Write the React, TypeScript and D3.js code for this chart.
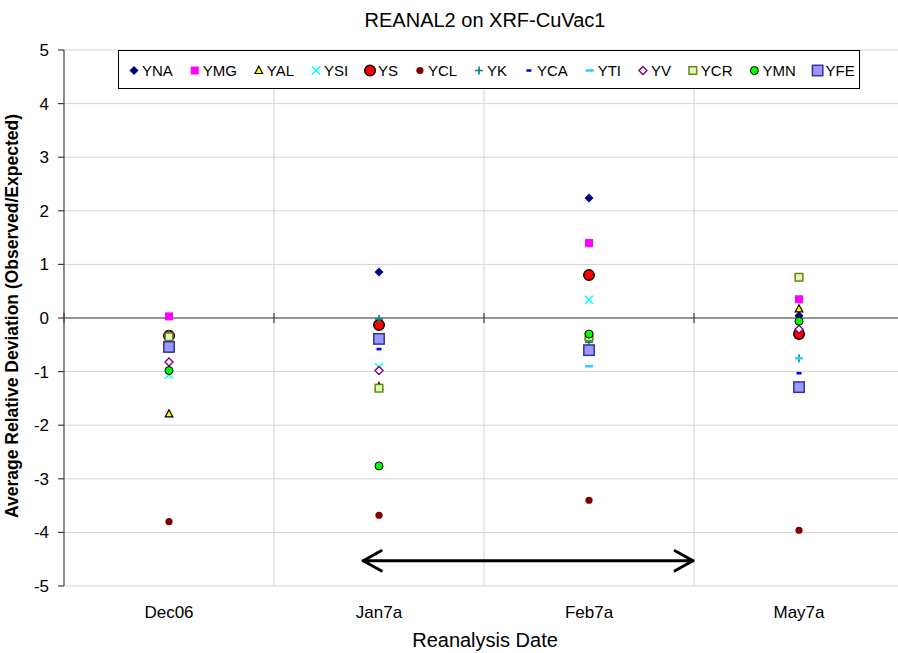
import React from "react";
import * as d3 from "d3";

const categories = ["Dec06", "Jan7a", "Feb7a", "May7a"];
const yTicks = [5, 4, 3, 2, 1, 0, -1, -2, -3, -4, -5];

const YNA = [-0.32, 0.86, 2.24, 0.04];
const YMG = [0.03, -0.38, 1.4, 0.35];
const YAL = [-1.79, -1.28, -0.33, 0.17];
const YSI = [-1.06, -0.92, 0.34, -0.3];
const YS = [-0.33, -0.13, 0.8, -0.3];
const YCL = [-3.8, -3.68, -3.4, -3.96];
const YK = [-0.3, -0.02, -0.45, -0.75];
const YCA = [-0.62, -0.58, -0.62, -1.03];
const YTI = [-0.5, -0.4, -0.9, -0.75];
const YV = [-0.82, -0.98, -0.6, -0.21];
const YCR = [-0.35, -1.31, -0.35, 0.76];
const YMN = [-0.98, -2.76, -0.3, -0.06];
const YFE = [-0.54, -0.39, -0.6, -1.29];

const seriesNames = ["YNA", "YMG", "YAL", "YSI", "YS", "YCL", "YK", "YCA", "YTI", "YV", "YCR", "YMN", "YFE"];
const seriesValues = [YNA, YMG, YAL, YSI, YS, YCL, YK, YCA, YTI, YV, YCR, YMN, YFE];

// annotation arrow (in data terms)
const arrowFrom = { cat: "Jan7a", offset: -0.08, value: -4.53 };
const arrowTo = { cat: "Feb7a", offset: 0.5, value: -4.53 };

const FONT = "'Liberation Sans', Arial, sans-serif";

function Marker({ name, x, y }: { name: string; x: number; y: number }) {
  const t = `translate(${x},${y})`;
  switch (name) {
    case "YNA":
      return <path transform={t} d="M0,-4.5L4.5,0L0,4.5L-4.5,0Z" fill="#000080" />;
    case "YMG":
      return <rect transform={t} x={-4} y={-4} width={8} height={8} fill="#FF00FF" />;
    case "YAL":
      return <path transform={t} d="M0,-4.2L3.8,3L-3.8,3Z" fill="#FFFF00" stroke="#000" strokeWidth={1.2} />;
    case "YSI":
      return (
        <path transform={t} d="M-4,-4L4,4M-4,4L4,-4" stroke="#00FFFF" strokeWidth={1.5} fill="none" />
      );
    case "YS":
      return <circle transform={t} r={5.3} fill="#FF0000" stroke="#000" strokeWidth={1.4} />;
    case "YCL":
      return <circle transform={t} r={3.6} fill="#800000" />;
    case "YK":
      return <path transform={t} d="M-4,0L4,0M0,-4L0,4" stroke="#008080" strokeWidth={1.6} fill="none" />;
    case "YCA":
      return <rect transform={t} x={-2.5} y={-1.3} width={5} height={2.6} fill="#0000FF" />;
    case "YTI":
      return <rect transform={t} x={-4} y={-1.3} width={8} height={2.6} fill="#33CCFF" />;
    case "YV":
      return <path transform={t} d="M0,-4L4,0L0,4L-4,0Z" fill="#fff" stroke="#800080" strokeWidth={1.4} />;
    case "YCR":
      return <rect transform={t} x={-3.8} y={-3.8} width={7.6} height={7.6} fill="#CCFFCC" stroke="#808000" strokeWidth={1.5} />;
    case "YMN":
      return <circle transform={t} r={4} fill="#00FF00" stroke="#000" strokeWidth={1} />;
    case "YFE":
      return <rect transform={t} x={-5.2} y={-5.2} width={10.4} height={10.4} fill="#9999FF" stroke="#333399" strokeWidth={1.5} />;
    default:
      return null;
  }
}

function measure(text: string, font: string): number {
  try {
    const c = document.createElement("canvas");
    const ctx = c.getContext("2d");
    if (ctx) {
      ctx.font = font;
      return ctx.measureText(text).width;
    }
  } catch (e) {}
  return text.length * 9.5;
}

export default function App() {
  const W = 898;
  const H = 653;
  const left = 64;
  const right = 904;
  const top = 50;
  const bottom = 586;

  const x = d3.scaleBand<string>().domain(categories).range([left, right]).padding(0);
  const y = d3.scaleLinear().domain([-5, 5]).range([bottom, top]);
  const bw = x.bandwidth();
  const cx = (c: string) => (x(c) as number) + bw / 2;

  const boundaries = categories.slice(1).map((c) => x(c) as number);

  // legend layout
  const legendItems: { name: string; mx: number; tx: number }[] = [];
  let lx = 134;
  seriesNames.forEach((n) => {
    legendItems.push({ name: n, mx: lx, tx: lx + 8 });
    lx += 8 + measure(n, `15px "Liberation Sans"`) + 21.9;
  });

  const ax1 = (x(arrowFrom.cat) as number) + bw * (0.5 + arrowFrom.offset);
  const ax2 = (x(arrowTo.cat) as number) + bw * (0.5 + arrowTo.offset);
  const ay = y(arrowFrom.value);

  return (
    <svg
      width={W}
      height={H}
      style={{ position: "absolute", left: 0, top: 0, background: "#fff" }}
      fontFamily={FONT}
    >
      <rect x={0} y={0} width={W} height={H} fill="#fff" />
      {/* horizontal gridlines */}
      {yTicks.map((t) => (
        <line key={"g" + t} x1={left} x2={right} y1={y(t)} y2={y(t)} stroke="#D4D4D4" strokeWidth={1} />
      ))}
      {/* vertical gridlines */}
      {boundaries.map((b, i) => (
        <line key={"v" + i} x1={b} x2={b} y1={top} y2={bottom} stroke="#D4D4D4" strokeWidth={1} />
      ))}
      {/* zero axis */}
      <line x1={left} x2={right} y1={y(0)} y2={y(0)} stroke="#404040" strokeWidth={1.2} />
      {[left, ...boundaries].map((b, i) => (
        <line key={"xt" + i} x1={b} x2={b} y1={y(0) - 5} y2={y(0) + 5} stroke="#404040" strokeWidth={1.2} />
      ))}
      {/* y axis */}
      <line x1={left} x2={left} y1={top} y2={bottom} stroke="#404040" strokeWidth={1.2} />
      {yTicks.map((t) => (
        <g key={"yt" + t}>
          <line x1={left - 6} x2={left} y1={y(t)} y2={y(t)} stroke="#404040" strokeWidth={1.2} />
          <text x={49} y={y(t) + 6} textAnchor="end" fontSize={17} fill="#000">
            {t}
          </text>
        </g>
      ))}
      {/* category labels */}
      {categories.map((c) => (
        <text key={c} x={cx(c)} y={618} textAnchor="middle" fontSize={17} fill="#000">
          {c}
        </text>
      ))}
      {/* axis titles */}
      <text x={485} y={647} textAnchor="middle" fontSize={20} fill="#000">
        Reanalysis Date
      </text>
      <text
        transform={`translate(18,${316}) rotate(-90)`}
        textAnchor="middle"
        fontSize={17.5}
        fontWeight="bold"
        fill="#000"
      >
        Average Relative Deviation (Observed/Expected)
      </text>
      <text x={485} y={27} textAnchor="middle" fontSize={20} fill="#000">
        REANAL2 on XRF-CuVac1
      </text>

      {/* data */}
      {seriesNames.map((n, si) => (
        <g key={n}>
          {seriesValues[si].map((v, i) => (
            <Marker key={i} name={n} x={cx(categories[i])} y={y(v)} />
          ))}
        </g>
      ))}

      {/* arrow annotation */}
      <g stroke="#000" strokeWidth={3} fill="none" strokeLinecap="round" strokeLinejoin="round">
        <line x1={ax1 + 1} x2={ax2 - 1} y1={ay} y2={ay} />
        <path d={`M${ax1 + 19},${ay - 10}L${ax1 + 1},${ay}L${ax1 + 19},${ay + 10}`} />
        <path d={`M${ax2 - 19},${ay - 10}L${ax2 - 1},${ay}L${ax2 - 19},${ay + 10}`} />
      </g>

      {/* legend */}
      <rect x={118.5} y={50.5} width={741} height={38} fill="#fff" stroke="#000" strokeWidth={1} />
      {legendItems.map((it) => (
        <g key={"l" + it.name}>
          <Marker name={it.name} x={it.mx} y={70.5} />
          <text x={it.tx} y={76} fontSize={15} fill="#000">
            {it.name}
          </text>
        </g>
      ))}
    </svg>
  );
}
